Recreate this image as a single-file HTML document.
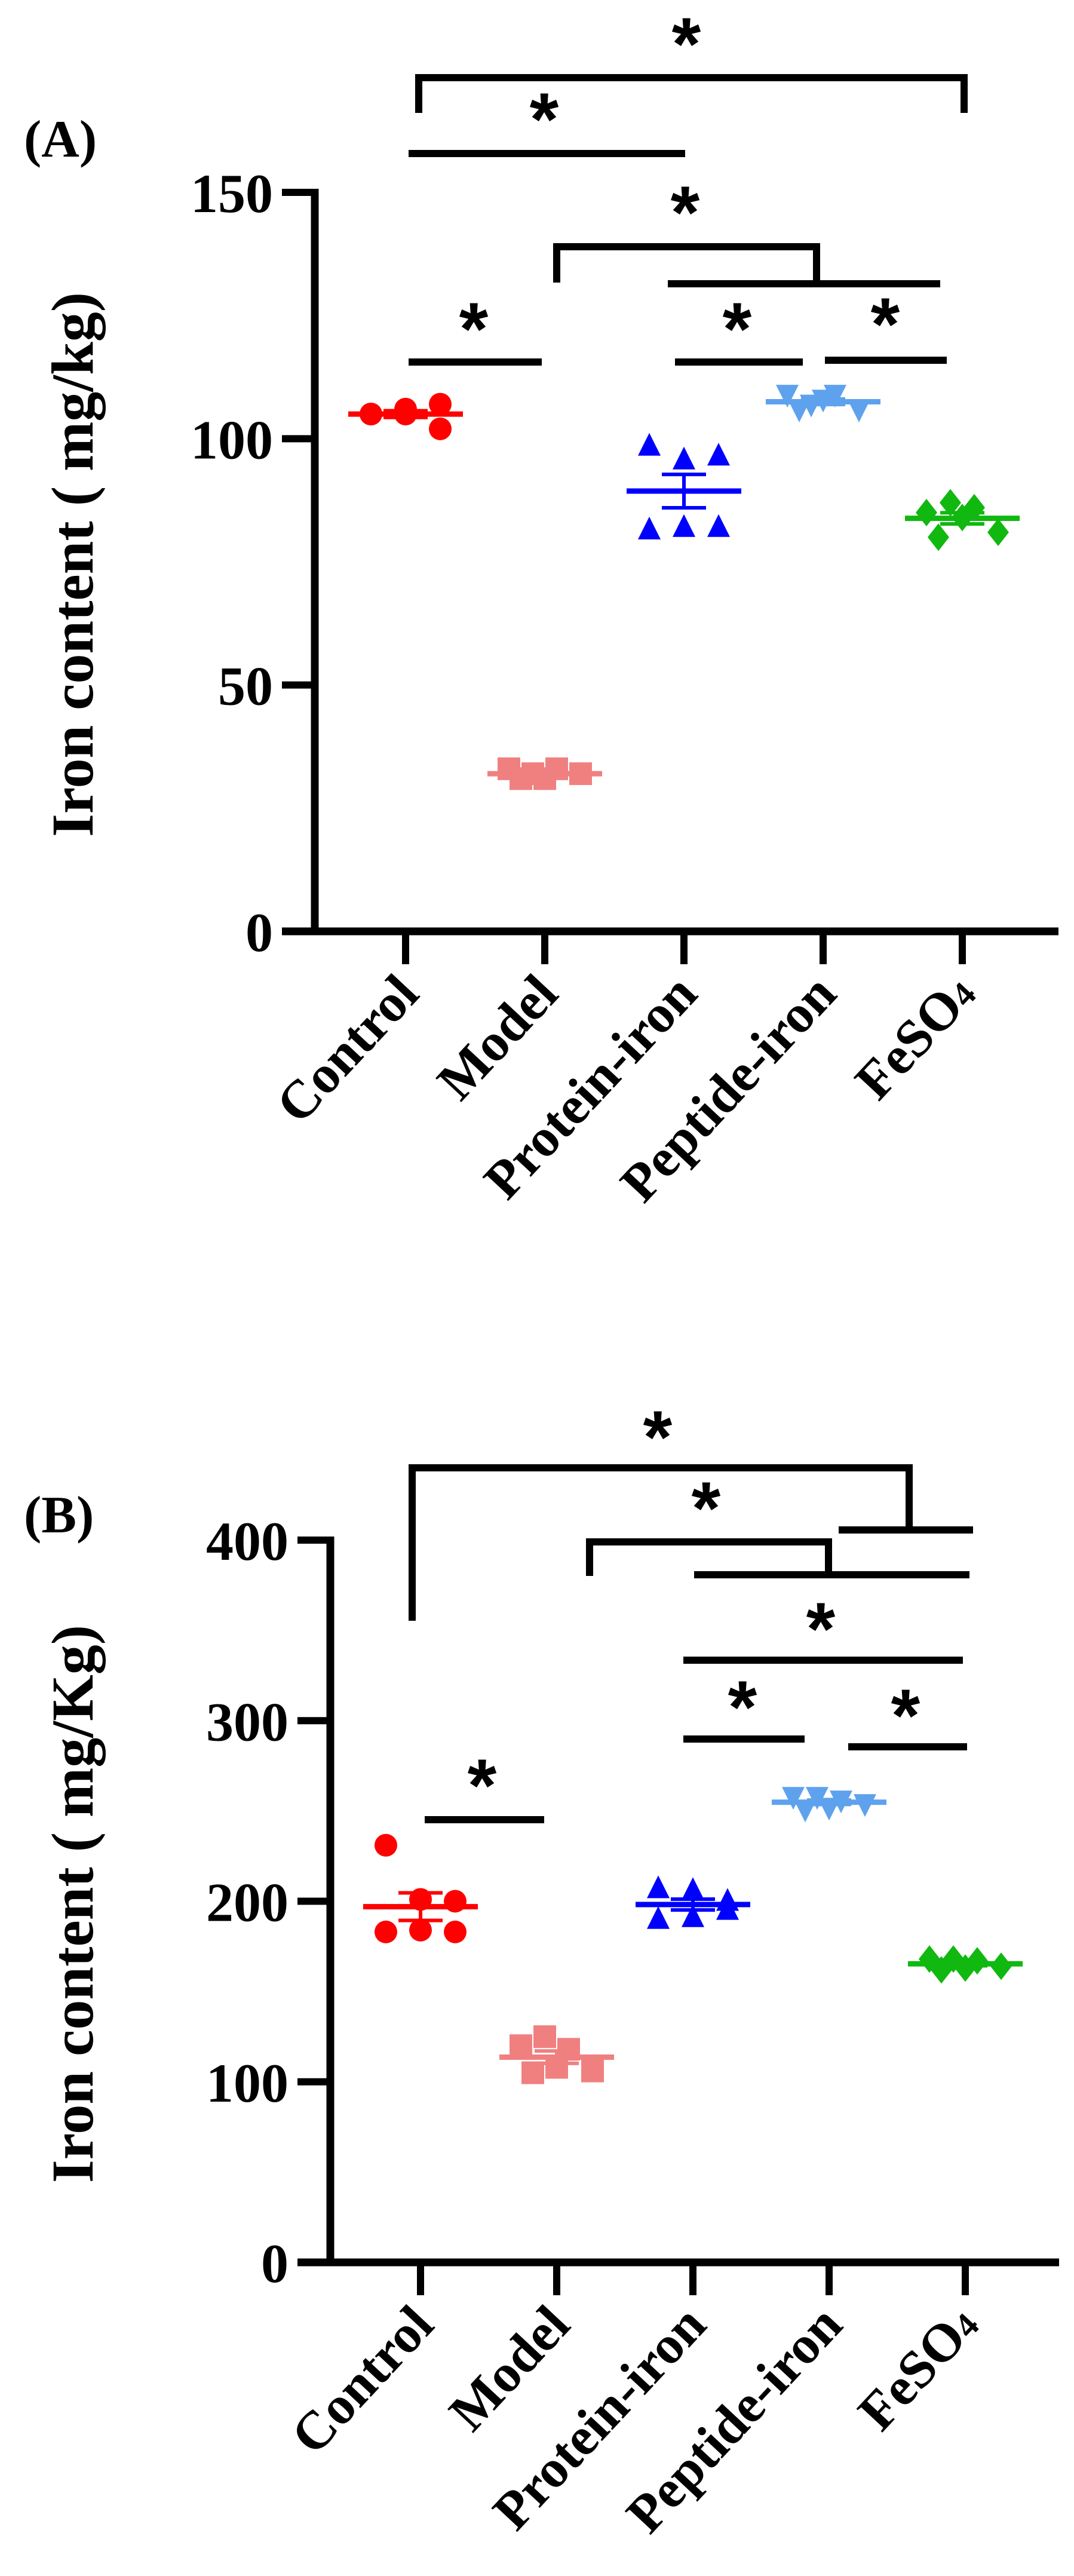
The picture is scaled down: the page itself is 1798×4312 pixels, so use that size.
<!DOCTYPE html>
<html><head><meta charset="utf-8">
<style>
html,body{margin:0;padding:0;background:#fff;}
svg{display:block;}
text{font-family:"Liberation Serif",serif;font-weight:bold;fill:#000;}
.star{font-family:"Liberation Sans",sans-serif;font-weight:bold;font-size:125px;}
</style></head>
<body>
<svg id="fig" xmlns="http://www.w3.org/2000/svg" width="1798" height="4312" viewBox="0 0 1798 4312"></svg>
<script>
// ---------- data ----------
const categories = ["Control","Model","Protein-iron","Peptide-iron","FeSO4"];
const colors = ["#ff0000","#f08080","#0000ff","#5ea2ee","#10b810"];
const shapes = ["circle","square","triangle","invtriangle","diamond"];
// Panel A values (mg/kg)
const aControl = [105,106,107,105,105,102];
const aModel   = [33,32,33,31,31,32];
const aProtein = [98.5,95.7,96.5,81.5,82,82];
const aPeptide = [109,107,109,106,108,106];
const aFeSO4   = [85,87,86,80,84,81];
const aTicks = [0,50,100,150];
// Panel B values (mg/Kg)
const bControl = [231,201,200,183,184,183];
const bModel   = [120,125,118,105,108,106];
const bProtein = [207,206,200,190,191,195];
const bPeptide = [258,258,256,251,252,254];
const bFeSO4   = [168,168,167,162,163,164];
const bTicks = [0,100,200,300,400];

const NS="http://www.w3.org/2000/svg";
const svg=document.getElementById('fig');
function el(tag,attrs,parent){const e=document.createElementNS(NS,tag);for(const k in attrs)e.setAttribute(k,attrs[k]);(parent||svg).appendChild(e);return e;}
const colOffsets=[-58,0,58,-58,0,58];
const spreadOffsets=[-60,-20,20,-40,0,60];
const groupOffsets=[colOffsets,spreadOffsets,colOffsets,spreadOffsets,spreadOffsets];

function drawPanel(cfg){
  const g=el('g',{});
  
  
  const y=v=>cfg.y0-(v-0)*(cfg.y0-cfg.yTop)/cfg.vTop;
  const x=i=>cfg.x0cat+i*cfg.dx;
  const ya=el('line',{x1:cfg.axisX,y1:cfg.yTop-6,x2:cfg.axisX,y2:cfg.y0+6,stroke:'#000','stroke-width':13},g);
  
  const xa=el('line',{x1:cfg.axisX-55,y1:cfg.y0,x2:cfg.axisEnd,y2:cfg.y0,stroke:'#000','stroke-width':13},g);
  
  cfg.ticks.forEach(t=>{
    const ty=y(t);
    const tl=el('line',{x1:cfg.axisX-55,y1:ty,x2:cfg.axisX,y2:ty,stroke:'#000','stroke-width':12},g);
    
    const tx=el('text',{x:cfg.axisX-70,y:ty+33,'text-anchor':'end','font-size':92},g);
    tx.textContent=t;
    
  });
  categories.forEach((c,i)=>{
    const tl=el('line',{x1:x(i),y1:cfg.y0,x2:x(i),y2:cfg.y0+55,stroke:'#000','stroke-width':12},g);
    
    const lx=x(i)+26, ly=cfg.y0+108;
    const t=el('text',{x:lx,y:ly,'text-anchor':'end','font-size':90,transform:`rotate(-47 ${lx} ${ly})`},g);
    if(c==="FeSO4"){t.textContent="FeSO";const s=el('tspan',{'font-size':58,dy:0},t);s.textContent="4";}
    else t.textContent=c;
    
  });
  const yt=el('text',{x:cfg.titleX,y:cfg.titleY,'text-anchor':'middle','font-size':100,transform:`rotate(-90 ${cfg.titleX} ${cfg.titleY})`},g);
  yt.textContent=cfg.title;
  
  const pl=el('text',{x:40,y:cfg.labelY,'font-size':88},g);
  pl.textContent=cfg.label;
  
  cfg.series.forEach((vals,i)=>{
    const col=colors[i];
    const offs=groupOffsets[i];
    vals.forEach((v,j)=>{
      const cx=x(i)+offs[j%offs.length], cy=y(v);
      let m;
      if(shapes[i]==='circle') m=el('ellipse',{cx:cx,cy:cy,rx:19,ry:19,fill:col},g);
      else if(shapes[i]==='square') m=el('rect',{x:cx-19,y:cy-19,width:38,height:38,fill:col},g);
      else if(shapes[i]==='triangle') m=el('polygon',{points:`${cx},${cy-22} ${cx-19},${cy+16} ${cx+19},${cy+16}`,fill:col},g);
      else if(shapes[i]==='invtriangle') m=el('polygon',{points:`${cx},${cy+22} ${cx-19},${cy-16} ${cx+19},${cy-16}`,fill:col},g);
      else m=el('polygon',{points:`${cx},${cy-23} ${cx+18},${cy} ${cx},${cy+23} ${cx-18},${cy}`,fill:col},g);
      
      
    });
    const n=vals.length, mean=vals.reduce((a,b)=>a+b,0)/n;
    const sd=Math.sqrt(vals.reduce((a,b)=>a+(b-mean)*(b-mean),0)/(n-1)), sem=sd/Math.sqrt(n);
    const ml=el('line',{x1:x(i)-96,y1:y(mean),x2:x(i)+96,y2:y(mean),stroke:col,'stroke-width':9},g);
    
    const eb=el('path',{d:`M${x(i)},${y(mean+sem)}V${y(mean-sem)}M${x(i)-37},${y(mean+sem)}H${x(i)+37}M${x(i)-37},${y(mean-sem)}H${x(i)+37}`,stroke:col,'stroke-width':6,fill:'none'},g);
    
  });
  cfg.paths.forEach(d=>{
    const p=el('path',{d:d,stroke:'#000','stroke-width':12,fill:'none'},g);
    
  });
  cfg.stars.forEach(s=>{
    const t=el('text',{x:s[0],y:s[1]+64,'text-anchor':'middle',class:'star'},g);
    t.textContent='*';
    
  });
}

drawPanel({name:'panel-a',label:'(A)',labelY:262,title:'Iron content ( mg/kg)',titleX:155,titleY:945,
  axisX:527,axisEnd:1772,y0:1559,yTop:322,vTop:150,x0cat:679,dx:233,ticks:aTicks,
  series:[aControl,aModel,aProtein,aPeptide,aFeSO4],
  paths:['M701,189V130H1614V189','M684,257H1147','M932,473V413H1367V475','M1118,475H1574','M684,606H907','M1130,606H1344','M1381,603H1585'],
  stars:[[1149,53],[911,179],[1147,335],[793,530],[1234,530],[1482,522]]});

drawPanel({name:'panel-b',label:'(B)',labelY:2565,title:'Iron content ( mg/Kg)',titleX:155,titleY:3187,
  axisX:553,axisEnd:1773,y0:3787,yTop:2578,vTop:400,x0cat:704,dx:228,ticks:bTicks,
  series:[bControl,bModel,bProtein,bPeptide,bFeSO4],
  paths:['M690,2713V2457H1522V2561','M1404,2561H1629','M987,2638V2581H1387V2636','M1162,2636H1623','M1144,2779H1612','M1144,2911H1347','M1420,2924H1619','M711,3046H911'],
  stars:[[1101,2385],[1182,2504],[1374,2706],[1243,2837],[1516,2851],[807,2968]]});
</script>
</body></html>
